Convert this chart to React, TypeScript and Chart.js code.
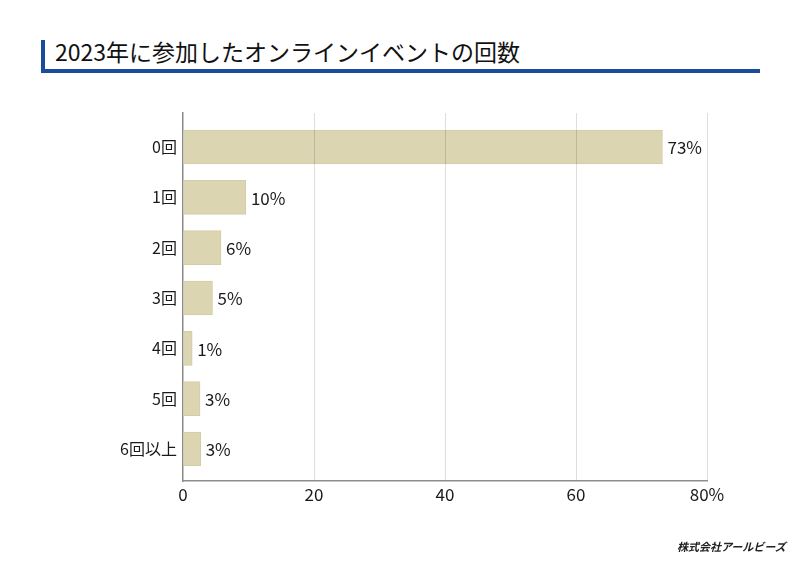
import React, { useEffect, useRef } from "react";
import { Chart, registerables } from "chart.js";

Chart.register(...registerables);

const TITLE = "2023年に参加したオンラインイベントの回数";
const COMPANY = "株式会社アールビーズ";
const categories = ["0回", "1回", "2回", "3回", "4回", "5回", "6回以上"];
const values = [73.2, 9.6, 5.8, 4.5, 1.4, 2.6, 2.7];
const valueLabels = ["73%", "10%", "6%", "5%", "1%", "3%", "3%"];
const xTicks = [0, 20, 40, 60, 80];

const FONT = "'Noto Sans CJK JP', 'Noto Sans', sans-serif";

const valueLabelPlugin = {
  id: "valueLabels",
  afterDatasetsDraw(chart: any) {
    const ctx = chart.ctx;
    const meta = chart.getDatasetMeta(0);
    ctx.save();
    ctx.font = `17px ${FONT}`;
    ctx.fillStyle = "#1a1a1a";
    ctx.textAlign = "left";
    ctx.textBaseline = "middle";
    meta.data.forEach((bar: any, i: number) => {
      ctx.fillText(valueLabels[i], bar.x + 5, bar.y + 1);
    });
    ctx.restore();
  },
};

export default function App() {
  const ref = useRef<HTMLCanvasElement | null>(null);

  useEffect(() => {
    if (!ref.current) return;
    const chart = new Chart(ref.current, {
      type: "bar",
      data: {
        datasets: [
          {
            data: values.map((v, i) => ({ x: v, y: i })),
            backgroundColor: "#dbd5b1",
            borderColor: "#d3cca4",
            borderWidth: 1,
            barThickness: 34,
          },
        ],
      },
      options: {
        indexAxis: "y",
        animation: false,
        responsive: false,
        maintainAspectRatio: false,
        layout: { padding: { top: 113, right: 93, bottom: 50, left: 0 } },
        plugins: {
          legend: { display: false },
          tooltip: { enabled: false },
          title: { display: false },
        },
        scales: {
          x: {
            type: "linear",
            min: 0,
            max: 80,
            afterBuildTicks(scale: any) {
              scale.ticks = xTicks.map((v) => ({ value: v }));
            },
            afterFit(scale: any) {
              scale.height = 35;
            },
            grid: {
              z: 1,
              color: (c: any) => (c.tick && c.tick.value === 0 ? "rgba(0,0,0,0)" : "rgba(0,0,0,0.13)"),
              lineWidth: 1,
              drawTicks: false,
            },
            border: { display: true, color: "#8e8e8e", width: 1.5, z: 2 },
            ticks: {
              padding: 3,
              color: "#1a1a1a",
              font: { size: 17, family: FONT },
              maxRotation: 0,
              callback: (v: any) => (v === 80 ? "80%" : String(v)),
            },
          },
          y: {
            type: "linear",
            reverse: true,
            offset: false,
            bounds: "data",
            grace: 0,
            min: -0.675,
            max: 6.635,
            afterBuildTicks(scale: any) {
              scale.ticks = categories.map((_, i) => ({ value: i }));
            },
            afterFit(scale: any) {
              scale.width = 183;
            },
            grid: { display: false, drawTicks: false, offset: false },
            border: { display: true, color: "#8a8a8a", width: 1.5 },
            ticks: {
              padding: 6,
              color: "#1a1a1a",
              font: { size: 16, family: FONT },
              callback: (v: any) => categories[v] ?? "",
            },
          },
        },
      },
      plugins: [valueLabelPlugin],
    } as any);
    return () => chart.destroy();
  }, []);

  return (
    <div style={{ position: "fixed", left: 0, top: 0, width: 800, height: 566, background: "#fff", fontFamily: FONT }}>
      <div style={{ position: "absolute", left: 41, top: 40, width: 4, height: 33, background: "#1b4c9c" }} />
      <div style={{ position: "absolute", left: 41, top: 69, width: 719, height: 4, background: "#1b4c9c" }} />
      <div
        style={{
          position: "absolute",
          left: 55,
          top: 35,
          fontSize: 23,
          lineHeight: "32px",
          color: "#111",
          whiteSpace: "nowrap",
        }}
      >
        {TITLE}
      </div>
      <canvas ref={ref} width={800} height={566} style={{ position: "absolute", left: 0, top: 0, width: 800, height: 566 }} />
      <div
        style={{
          position: "absolute",
          left: 677,
          top: 538,
          fontSize: 11,
          fontWeight: 700,
          fontStyle: "italic",
          color: "#222",
          whiteSpace: "nowrap",
          lineHeight: "16px",
        }}
      >
        {COMPANY}
      </div>
    </div>
  );
}
